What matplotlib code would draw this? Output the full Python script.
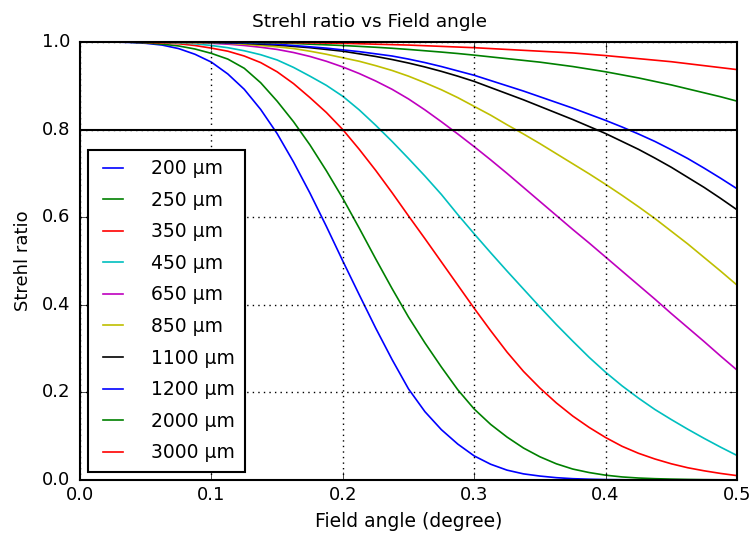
import numpy as np
import matplotlib
matplotlib.use("Agg")
import matplotlib.pyplot as plt

plt.style.use('classic')
plt.rcParams['font.family'] = ['DejaVu Sans']

field_angle = [0.0, 0.0125, 0.025, 0.0375, 0.05, 0.0625, 0.075, 0.0875, 0.1, 0.1125,
               0.125, 0.1375, 0.15, 0.1625, 0.175, 0.1875, 0.2, 0.2125, 0.225, 0.2375,
               0.25, 0.2625, 0.275, 0.2875, 0.3, 0.3125, 0.325, 0.3375, 0.35, 0.3625,
               0.375, 0.3875, 0.4, 0.4125, 0.425, 0.4375, 0.45, 0.4625, 0.475, 0.4875, 0.5]

labels = ["200 µm", "250 µm", "350 µm", "450 µm", "650 µm", "850 µm",
          "1100 µm", "1200 µm", "2000 µm", "3000 µm"]

s_200 = [1.0, 1.0, 1.0, 0.999, 0.997, 0.993, 0.985, 0.972, 0.954, 0.927,
         0.892, 0.846, 0.791, 0.726, 0.655, 0.579, 0.500, 0.423, 0.347, 0.275,
         0.208, 0.156, 0.115, 0.082, 0.055, 0.036, 0.0225, 0.014, 0.009, 0.0053,
         0.003, 0.0018, 0.001, 0.0006, 0.0003, 0.0002, 0.0001, 0.0, 0.0, 0.0, 0.0]
s_250 = [1.0, 1.0, 1.0, 0.9995, 0.998, 0.995, 0.991, 0.984, 0.974, 0.961,
         0.940, 0.907, 0.865, 0.818, 0.765, 0.706, 0.643, 0.575, 0.505, 0.437,
         0.372, 0.313, 0.258, 0.206, 0.162, 0.127, 0.098, 0.073, 0.053, 0.037,
         0.025, 0.017, 0.011, 0.007, 0.0045, 0.003, 0.002, 0.0013, 0.0008, 0.0005, 0.0003]
s_350 = [1.0, 1.0, 1.0, 0.9997, 0.999, 0.998, 0.996, 0.992, 0.986, 0.979,
         0.968, 0.953, 0.932, 0.905, 0.873, 0.839, 0.800, 0.755, 0.707, 0.656,
         0.603, 0.551, 0.498, 0.445, 0.392, 0.341, 0.292, 0.248, 0.210, 0.176,
         0.146, 0.120, 0.097, 0.077, 0.061, 0.048, 0.037, 0.028, 0.021, 0.015, 0.010]
s_450 = [1.0, 1.0, 1.0, 1.0, 1.0, 0.9995, 0.998, 0.996, 0.992, 0.987,
         0.980, 0.971, 0.959, 0.942, 0.922, 0.901, 0.876, 0.845, 0.810, 0.773,
         0.734, 0.694, 0.652, 0.606, 0.562, 0.519, 0.477, 0.436, 0.395, 0.355,
         0.317, 0.280, 0.246, 0.215, 0.187, 0.161, 0.138, 0.116, 0.095, 0.075, 0.056]
s_650 = [1.0, 1.0, 1.0, 1.0, 1.0, 1.0, 0.999, 0.9985, 0.997, 0.995,
         0.992, 0.988, 0.983, 0.976, 0.967, 0.956, 0.943, 0.928, 0.911, 0.892,
         0.870, 0.845, 0.818, 0.790, 0.761, 0.731, 0.700, 0.668, 0.636, 0.604,
         0.572, 0.541, 0.509, 0.477, 0.445, 0.413, 0.380, 0.348, 0.316, 0.283, 0.251]
s_850 = [1.0, 1.0, 1.0, 1.0, 1.0, 0.9995, 0.999, 0.9985, 0.998, 0.997,
         0.995, 0.992, 0.989, 0.985, 0.979, 0.972, 0.964, 0.956, 0.946, 0.935,
         0.922, 0.907, 0.891, 0.873, 0.853, 0.833, 0.811, 0.790, 0.768, 0.745,
         0.722, 0.699, 0.675, 0.650, 0.624, 0.597, 0.568, 0.539, 0.508, 0.477, 0.445]
s_1100 = [1.0, 1.0, 1.0, 1.0, 1.0, 1.0, 1.0, 0.9997, 0.999, 0.998,
          0.997, 0.995, 0.993, 0.990, 0.987, 0.983, 0.979, 0.973, 0.967, 0.960,
          0.952, 0.943, 0.933, 0.922, 0.910, 0.896, 0.882, 0.868, 0.853, 0.838,
          0.823, 0.807, 0.791, 0.773, 0.755, 0.735, 0.714, 0.691, 0.668, 0.643, 0.617]
s_1200 = [1.0, 1.0, 1.0, 1.0, 1.0, 1.0, 1.0, 0.9998, 0.999, 0.9986,
          0.998, 0.9967, 0.995, 0.992, 0.989, 0.986, 0.982, 0.978, 0.973, 0.968,
          0.961, 0.953, 0.944, 0.934, 0.924, 0.912, 0.900, 0.888, 0.875, 0.862,
          0.849, 0.835, 0.821, 0.806, 0.790, 0.773, 0.754, 0.734, 0.712, 0.689, 0.665]
s_2000 = [1.0, 1.0, 1.0, 1.0, 1.0, 1.0, 1.0, 1.0, 1.0, 0.9997,
          0.999, 0.9985, 0.998, 0.9967, 0.995, 0.9935, 0.992, 0.990, 0.988, 0.9857,
          0.983, 0.980, 0.977, 0.9737, 0.970, 0.966, 0.962, 0.958, 0.954, 0.949,
          0.944, 0.938, 0.932, 0.925, 0.918, 0.910, 0.902, 0.893, 0.884, 0.875, 0.865]
s_3000 = [1.0, 1.0, 1.0, 1.0, 1.0, 1.0, 1.0, 1.0, 1.0, 1.0,
          1.0, 0.9995, 0.999, 0.9985, 0.998, 0.9975, 0.997, 0.996, 0.995, 0.994,
          0.993, 0.9915, 0.990, 0.9885, 0.987, 0.985, 0.983, 0.981, 0.979, 0.977,
          0.975, 0.972, 0.969, 0.9655, 0.962, 0.9585, 0.955, 0.9505, 0.946, 0.9415, 0.937]

series = [s_200, s_250, s_350, s_450, s_650, s_850, s_1100, s_1200, s_2000, s_3000]
colors = ['b', 'g', 'r', 'c', 'm', 'y', 'k', 'b', 'g', 'r']
threshold = 0.8

fig = plt.figure(figsize=(7.53, 5.36), dpi=100, facecolor='white')
ax = fig.add_axes([80/753, 1-480/536, 657/753, 438/536])

for s, c, lab in zip(series, colors, labels):
    ax.plot(field_angle, s, color=c, lw=1.2, label=lab)

ax.axhline(threshold, color='k', lw=1.5)

ax.set_xlim(0, 0.5)
ax.set_ylim(0, 1.0)
ax.set_xticks([0.0, 0.1, 0.2, 0.3, 0.4, 0.5])
ax.set_yticks([0.0, 0.2, 0.4, 0.6, 0.8, 1.0])
ax.grid(True, color='k', linestyle=':', lw=1)
ax.tick_params(labelsize=13, direction='in', length=6, top=True, right=True)
ax.tick_params(axis='y', pad=7)
for sp in ax.spines.values():
    sp.set_linewidth(1.5)

fig.text(370/753, 1-22/536, "Strehl ratio vs Field angle", fontsize=13.3,
         ha='center', va='center')
ax.set_xlabel("Field angle (degree)", fontsize=13.5)
ax.set_ylabel("Strehl ratio", fontsize=13)
ax.xaxis.set_label_coords(0.5, -0.073)
ax.yaxis.set_label_coords(-0.073, 0.5)

leg = ax.legend(loc='lower left', fontsize=13.5, frameon=True, fancybox=False,
                handlelength=1.65, labelspacing=0.67, borderpad=0.5,
                handletextpad=1.2, borderaxespad=0.45)
leg.get_frame().set_edgecolor('k')
leg.get_frame().set_linewidth(1.5)

fig.savefig("out.png", dpi=100, facecolor='white')
